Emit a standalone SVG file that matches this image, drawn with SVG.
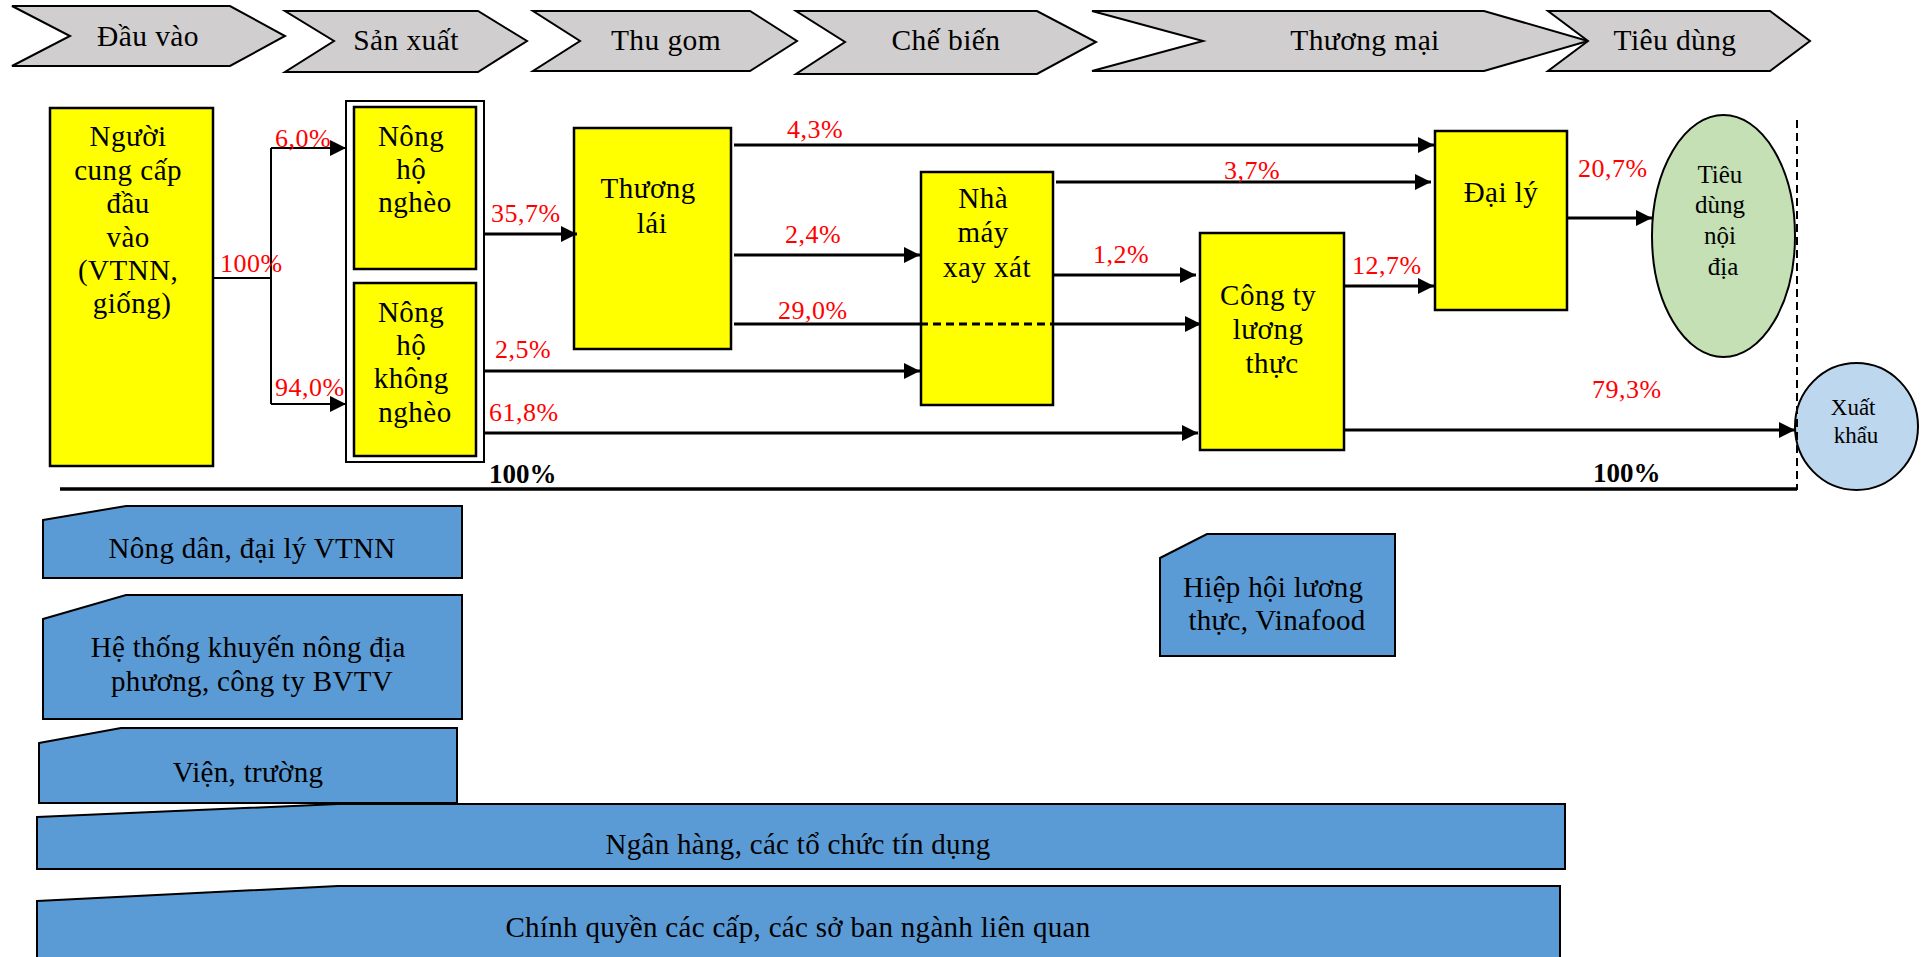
<svg xmlns="http://www.w3.org/2000/svg" width="1926" height="957" viewBox="0 0 1926 957" font-family="'Liberation Serif', 'Times New Roman', serif">
  <style>
    text { font-family: 'Liberation Serif', 'Times New Roman', serif; fill: #000; }
    .stage { fill: #d0cece; stroke: #000; stroke-width: 2; }
    .stage-t { font-size: 29.5px; letter-spacing: 0.4px; text-anchor: middle; }
    .actor { fill: #ffff00; stroke: #000; stroke-width: 2.5; }
    .actor-t { font-size: 29px; letter-spacing: 0.5px; text-anchor: middle; }
    .support { fill: #5b9bd5; stroke: #000; stroke-width: 2; }
    .support-t { font-size: 29px; letter-spacing: 0.3px; text-anchor: middle; }
    .flow { fill: none; stroke: #000; stroke-width: 3; }
    .flow-thin { fill: none; stroke: #000; stroke-width: 2; }
    .pct { font-size: 26px; letter-spacing: 0.5px; fill: #ff0000; }
    .total { font-size: 27px; font-weight: bold; }
  </style>
  <defs>
    <marker id="arrow" markerUnits="userSpaceOnUse" markerWidth="16" markerHeight="16" refX="16" refY="8" orient="auto">
      <path d="M0,0 L16,8 L0,16 Z" fill="#000"/>
    </marker>
  </defs>

  <rect width="1926" height="957" fill="#fff"/>

  <!-- Value-chain stages -->
  <g id="stages">
    <g id="stage-dau-vao">
      <polygon class="stage" points="12,6 230,6 285,36 230,66 12,66 70,36"/>
      <text class="stage-t" x="148" y="46">Đầu vào</text>
    </g>
    <g id="stage-san-xuat">
      <polygon class="stage" points="285,11 478,11 527,41 478,72 285,72 334,41"/>
      <text class="stage-t" x="406" y="50">Sản xuất</text>
    </g>
    <g id="stage-thu-gom">
      <polygon class="stage" points="533,11 750,11 797,41 750,71 533,71 580,41"/>
      <text class="stage-t" x="666" y="50">Thu gom</text>
    </g>
    <g id="stage-che-bien">
      <polygon class="stage" points="796,11 1037,11 1096,42 1037,74 796,74 845,42"/>
      <text class="stage-t" x="946" y="50">Chế biến</text>
    </g>
    <g id="stage-thuong-mai">
      <polygon class="stage" points="1092,11 1484,11 1588,41 1484,71 1092,71 1203,41"/>
      <text class="stage-t" x="1365" y="50">Thương mại</text>
    </g>
    <g id="stage-tieu-dung">
      <polygon class="stage" points="1548,11 1770,11 1810,41 1770,71 1548,71 1588,41"/>
      <text class="stage-t" x="1675" y="50">Tiêu dùng</text>
    </g>
  </g>

  <!-- Actors -->
  <g id="node-input-supplier">
    <rect class="actor" x="50" y="108" width="163" height="358"/>
    <text class="actor-t">
      <tspan x="132" y="146">Người</tspan>
      <tspan x="132" y="180">cung cấp</tspan>
      <tspan x="132" y="213">đầu</tspan>
      <tspan x="132" y="247">vào</tspan>
      <tspan x="132" y="280">(VTNN,</tspan>
      <tspan x="132" y="313">giống)</tspan>
    </text>
  </g>

  <g id="node-households">
    <rect x="346" y="101" width="138" height="361" fill="#fff" stroke="#000" stroke-width="2"/>
    <g id="node-poor-households">
      <rect class="actor" x="354" y="107" width="122" height="162"/>
      <text class="actor-t">
        <tspan x="415" y="146">Nông</tspan>
        <tspan x="415" y="179">hộ</tspan>
        <tspan x="415" y="212">nghèo</tspan>
      </text>
    </g>
    <g id="node-nonpoor-households">
      <rect class="actor" x="354" y="283" width="122" height="173"/>
      <text class="actor-t">
        <tspan x="415" y="322">Nông</tspan>
        <tspan x="415" y="355">hộ</tspan>
        <tspan x="415" y="388">không</tspan>
        <tspan x="415" y="422">nghèo</tspan>
      </text>
    </g>
  </g>

  <g id="node-trader">
    <rect class="actor" x="574" y="128" width="157" height="221"/>
    <text class="actor-t">
      <tspan x="652" y="198">Thương</tspan>
      <tspan x="652" y="233">lái</tspan>
    </text>
  </g>

  <g id="node-mill">
    <rect class="actor" x="921" y="172" width="132" height="233"/>
    <text class="actor-t">
      <tspan x="987" y="208">Nhà</tspan>
      <tspan x="987" y="242">máy</tspan>
      <tspan x="987" y="277">xay xát</tspan>
    </text>
  </g>

  <g id="node-food-company">
    <rect class="actor" x="1200" y="233" width="144" height="217"/>
    <text class="actor-t">
      <tspan x="1272" y="305">Công ty</tspan>
      <tspan x="1272" y="339">lương</tspan>
      <tspan x="1272" y="373">thực</tspan>
    </text>
  </g>

  <g id="node-agent">
    <rect class="actor" x="1435" y="131" width="132" height="179"/>
    <text class="actor-t" x="1501" y="202">Đại lý</text>
  </g>

  <g id="node-domestic">
    <ellipse cx="1723.5" cy="236" rx="71.5" ry="121" fill="#c5e0b4" stroke="#000" stroke-width="2"/>
    <text font-size="25" text-anchor="middle">
      <tspan x="1723" y="183">Tiêu</tspan>
      <tspan x="1723" y="213">dùng</tspan>
      <tspan x="1723" y="244">nội</tspan>
      <tspan x="1723" y="275">địa</tspan>
    </text>
  </g>

  <g id="node-export">
    <ellipse cx="1856.5" cy="426.5" rx="61.5" ry="63.5" fill="#bdd7ee" stroke="#000" stroke-width="2"/>
    <text font-size="23" text-anchor="middle">
      <tspan x="1856" y="415">Xuất</tspan>
      <tspan x="1856" y="443">khẩu</tspan>
    </text>
  </g>

  <!-- Flows -->
  <g id="connectors">
    <polyline class="flow-thin" points="213,278 271,278"/>
    <polyline class="flow-thin" points="271,148 271,404"/>
    <line class="flow-thin" x1="271" y1="148" x2="346" y2="148" marker-end="url(#arrow)"/>
    <line class="flow-thin" x1="271" y1="404" x2="346" y2="404" marker-end="url(#arrow)"/>

    <line class="flow" x1="484" y1="234" x2="577" y2="234" marker-end="url(#arrow)"/>
    <line class="flow" x1="484" y1="371" x2="920" y2="371" marker-end="url(#arrow)"/>
    <line class="flow" x1="484" y1="433" x2="1198" y2="433" marker-end="url(#arrow)"/>

    <line class="flow" x1="734" y1="145" x2="1434" y2="145" marker-end="url(#arrow)"/>
    <line class="flow" x1="734" y1="255" x2="920" y2="255" marker-end="url(#arrow)"/>
    <line class="flow" x1="734" y1="324" x2="920" y2="324"/>
    <line class="flow" x1="920" y1="324" x2="1053" y2="324" stroke-dasharray="8 5" stroke-width="2.5"/>
    <line class="flow" x1="1053" y1="324" x2="1201" y2="324" marker-end="url(#arrow)"/>

    <line class="flow" x1="1056" y1="182" x2="1431" y2="182" marker-end="url(#arrow)"/>
    <line class="flow" x1="1053" y1="275" x2="1196" y2="275" marker-end="url(#arrow)"/>

    <line class="flow" x1="1344" y1="286" x2="1434" y2="286" marker-end="url(#arrow)"/>
    <line class="flow" x1="1567" y1="218" x2="1652" y2="218" marker-end="url(#arrow)"/>
    <line class="flow" x1="1344" y1="430" x2="1795" y2="430" marker-end="url(#arrow)"/>

    <line x1="1797" y1="120" x2="1797" y2="490" stroke="#000" stroke-width="2" stroke-dasharray="8 5"/>
    <line x1="60" y1="489" x2="1797" y2="489" stroke="#000" stroke-width="3.5"/>
  </g>

  <!-- Shares -->
  <g id="shares">
    <text class="pct" x="220" y="272">100%</text>
    <text class="pct" x="275" y="147">6,0%</text>
    <text class="pct" x="275" y="396">94,0%</text>
    <text class="pct" x="491" y="222">35,7%</text>
    <text class="pct" x="495" y="358">2,5%</text>
    <text class="pct" x="489" y="421">61,8%</text>
    <text class="pct" x="787" y="138">4,3%</text>
    <text class="pct" x="785" y="243">2,4%</text>
    <text class="pct" x="778" y="319">29,0%</text>
    <text class="pct" x="1093" y="263">1,2%</text>
    <text class="pct" x="1224" y="179">3,7%</text>
    <text class="pct" x="1352" y="274">12,7%</text>
    <text class="pct" x="1578" y="177">20,7%</text>
    <text class="pct" x="1592" y="398">79,3%</text>
    <text class="total" x="489" y="483">100%</text>
    <text class="total" x="1593" y="482">100%</text>
  </g>

  <!-- Supporting actors -->
  <g id="support-farmers">
    <polygon class="support" points="43,520 126,506 462,506 462,578 43,578"/>
    <text class="support-t" x="252" y="558">Nông dân, đại lý VTNN</text>
  </g>
  <g id="support-extension">
    <polygon class="support" points="43,619 126,595 462,595 462,719 43,719"/>
    <text class="support-t">
      <tspan x="252" y="657">Hệ thống khuyến nông địa</tspan>
      <tspan x="252" y="691">phương, công ty BVTV</tspan>
    </text>
  </g>
  <g id="support-institutes">
    <polygon class="support" points="39,743 121,728 457,728 457,803 39,803"/>
    <text class="support-t" x="248" y="782">Viện, trường</text>
  </g>
  <g id="support-banks">
    <polygon class="support" points="37,817 338,804 1565,804 1565,869 37,869"/>
    <text class="support-t" x="798" y="854">Ngân hàng, các tổ chức tín dụng</text>
  </g>
  <g id="support-government">
    <polygon class="support" points="37,901 338,886 1560,886 1560,962 37,962"/>
    <text class="support-t" x="798" y="937">Chính quyền các cấp, các sở ban ngành liên quan</text>
  </g>
  <g id="support-association">
    <polygon class="support" points="1160,558 1207,534 1395,534 1395,656 1160,656"/>
    <text class="support-t">
      <tspan x="1277" y="597">Hiệp hội lương</tspan>
      <tspan x="1277" y="630">thực, Vinafood</tspan>
    </text>
  </g>
</svg>
